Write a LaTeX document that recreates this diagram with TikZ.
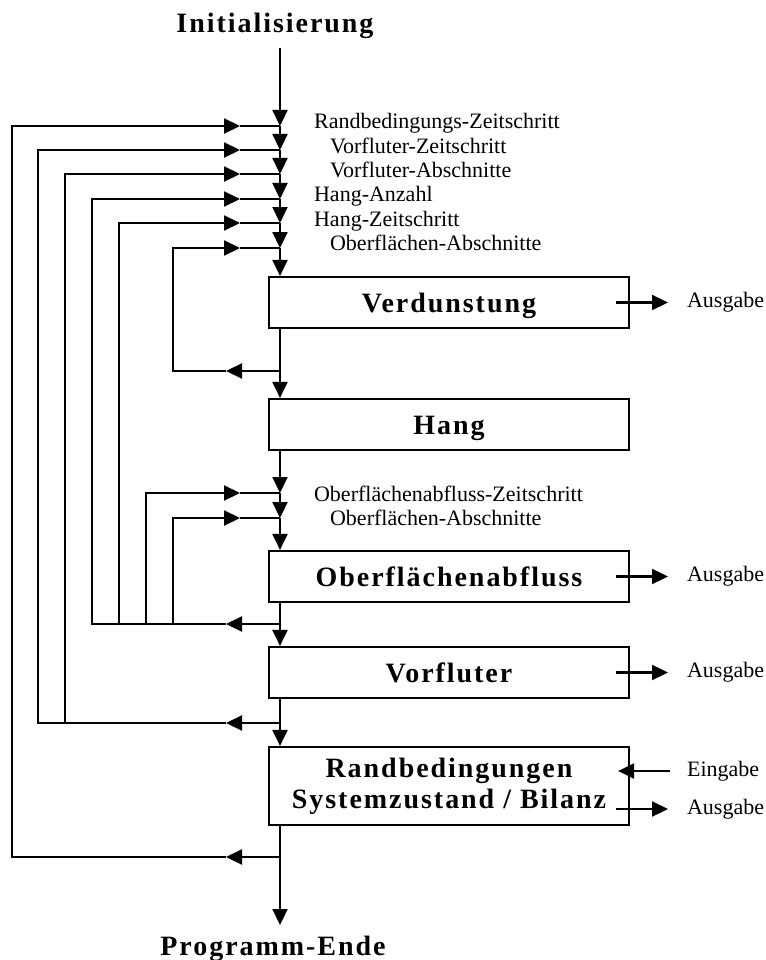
\documentclass[tikz,border=0pt]{standalone}
\usepackage{fontspec}
\setmainfont{Liberation Serif}
\newfontfamily\boxfamily{Liberation Serif}[LetterSpace=7]
\usetikzlibrary{arrows.meta}
\usetikzlibrary{positioning}
\tikzset{
	every path/.style={line width=2.2pt},
	flow/.style={
		-{Triangle[length=16pt,width=15pt]}
	},
	block/.style={
		draw,
		rectangle,
		minimum width=360pt,
		minimum height=51pt,
		inner sep=0pt,
		text height=19pt,
		text depth=0pt,
		font=\boxfamily\bfseries\fontsize{28}{31}\selectfont,
	},
	title/.style={
		anchor=base,
		inner sep=0pt,
		font=\boxfamily\bfseries\fontsize{28}{31}\selectfont,
	},
	param/.style={
		anchor=base west,
		inner sep=0pt,
		font=\fontsize{22}{25}\selectfont,
	},
	io/.style={
		anchor=west,
		inner sep=0pt,
		font=\fontsize{22}{25}\selectfont,
	},
}

\begin{document}
\begin{tikzpicture}[x=1pt,y=-1pt]
	\useasboundingbox (0,0) rectangle (765,960);

	\node[title] (init) at (275,33) {Initialisierung};
	\node[title] (ende) at (273,955) {Programm-Ende};

	\node[block] (verd) at (449,302.5) {Verdunstung};
	\node[block] (hang) at (449,424.5) {Hang};
	\node[block] (oberfl) at (449,576.5) {Oberflächenabfluss};
	\node[block] (vorfl) at (449,672.5) {Vorfluter};
	\node[block, minimum height=78pt, align=center, text height={}, text depth={}] (rand) at (449,786) {Randbedingungen\\Systemzustand / Bilanz};

	\node[param] (rzeit) at (313,129) {Randbedingungs-Zeitschritt};
	\node[param] (vzeit) at (329,154) {Vorfluter-Zeitschritt};
	\node[param] (vabschn) at (329,178) {Vorfluter-Abschnitte};
	\node[param] (hanz) at (313,201) {Hang-Anzahl};
	\node[param] (hzeit) at (313,226) {Hang-Zeitschritt};
	\node[param] (oabschn) at (329,250) {Oberflächen-Abschnitte};
	\node[param] (ozeit) at (313,501) {Oberflächenabfluss-Zeitschritt};
	\node[param] (oabschnb) at (329,525) {Oberflächen-Abschnitte};

	\node[io] (ausV) at (686,302.5) {Ausgabe};
	\node[io] (ausO) at (686,576.5) {Ausgabe};
	\node[io] (ausF) at (686,672.5) {Ausgabe};
	\node[io] (ein) at (686,771) {Eingabe};
	\node[io] (ausR) at (686,809) {Ausgabe};

	% main line
	\coordinate (start) at (280,48);
	\coordinate (j1) at (280,126);
	\coordinate (j2) at (280,150);
	\coordinate (j3) at (280,174);
	\coordinate (j4) at (280,199);
	\coordinate (j5) at (280,223);
	\coordinate (j6) at (280,248);
	\coordinate (f1) at (280,371);
	\coordinate (j7) at (280,493);
	\coordinate (j8) at (280,518);
	\coordinate (f2) at (280,624);
	\coordinate (f3) at (280,723);
	\coordinate (f4) at (280,857);
	\coordinate (stop) at (280,925);
	% rails
	\coordinate (r1) at (12,0);
	\coordinate (r2) at (38,0);
	\coordinate (r3) at (65,0);
	\coordinate (r4) at (92,0);
	\coordinate (r5) at (119,0);
	\coordinate (r6) at (146,0);
	\coordinate (r7) at (173,0);
	\coordinate (tipin) at (240,0);
	\coordinate (tipout) at (226,0);

	\draw[flow] (start) -- (j1);
	\foreach \a/\b in {j1/j2,j2/j3,j3/j4,j4/j5,j5/j6}
		\draw[flow] (\a) -- (\b);
	\draw[flow] (j6) -- (j6 |- verd.north);
	\draw[flow] (f1 |- verd.south) -- (f1 |- hang.north);
	\draw[flow] (j7 |- hang.south) -- (j7);
	\draw[flow] (j7) -- (j8);
	\draw[flow] (j8) -- (j8 |- oberfl.north);
	\draw[flow] (f2 |- oberfl.south) -- (f2 |- vorfl.north);
	\draw[flow] (f3 |- vorfl.south) -- (f3 |- rand.north);
	\draw[flow] (f4 |- rand.south) -- (stop);

	\foreach \j in {j1,j2,j3,j4,j5,j6,j7,j8}
		\draw (tipin |- \j) -- (\j);

	% feedback
	\draw[flow] (f1) -- (tipout |- f1);
	\draw[flow] (tipout |- f1) -- (r7 |- f1) -- (r7 |- j6) -- (tipin |- j6);
	\draw[flow] (f2) -- (tipout |- f2);
	\draw[flow] (tipout |- f2) -- (r4 |- f2) -- (r4 |- j4) -- (tipin |- j4);
	\foreach \r/\j in {r5/j5,r6/j7,r7/j8}
		\draw[flow] (\r |- f2) -- (\r |- \j) -- (tipin |- \j);
	\draw[flow] (f3) -- (tipout |- f3);
	\draw[flow] (tipout |- f3) -- (r2 |- f3) -- (r2 |- j2) -- (tipin |- j2);
	\draw[flow] (r3 |- f3) -- (r3 |- j3) -- (tipin |- j3);
	\draw[flow] (f4) -- (tipout |- f4);
	\draw[flow] (tipout |- f4) -- (r1 |- f4) -- (r1 |- j1) -- (tipin |- j1);

	% outputs
	\foreach \n/\o in {verd/ausV,oberfl/ausO,vorfl/ausF,rand/ausR}
		\draw[flow, shorten <=-14pt, shorten >=18pt] (\o.west -| \n.east) -- (\o.west);
	\draw[flow, shorten <=16pt, shorten >=-12pt] (ein.west) -- (ein.west -| rand.east);

\end{tikzpicture}
\end{document}
